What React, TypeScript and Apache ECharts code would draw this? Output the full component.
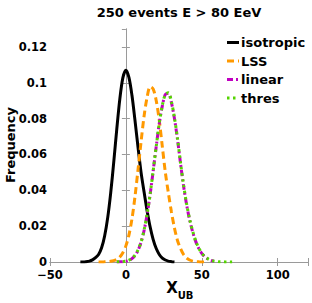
import React, { useEffect, useRef } from "react";
import * as echarts from "echarts";

const titleText = "250 events E > 80 EeV";
const yAxisName = "Frequency";
const xNameMain = "X";
const xNameSub = "UB";
const xTicks = [-50, 0, 50, 100];
const yTicks = [0, 0.02, 0.04, 0.06, 0.08, 0.1, 0.12];
const legendNames = ["isotropic", "LSS", "linear", "thres"];

const xs = [
  -30, -28, -26, -24, -22, -20, -18, -16, -14, -12, -10, -8, -6, -4, -2, 0, 2, 4, 6, 8, 10,
  12, 14, 16, 18, 20, 22, 24, 26, 28, 30, 32, 34, 36, 38, 40, 42, 44, 46, 48, 50, 52, 54, 56,
  58, 60, 62, 64, 66, 68, 70,
];

const isotropic = [
  0, 0, 0.0002, 0.0005, 0.0012, 0.0024, 0.0042, 0.0079, 0.0145, 0.0246, 0.0386, 0.0557,
  0.0741, 0.0909, 0.1027, 0.107, 0.103, 0.093, 0.079, 0.064, 0.05, 0.039, 0.0285, 0.0195,
  0.0125, 0.0075, 0.0042, 0.0022, 0.0011, 0.0005, 0.0002, 0, null, null, null, null, null,
  null, null, null, null, null, null, null, null, null, null, null, null, null, null,
];

const lss = [
  null, null, null, null, null, null, 0, 0, 0.0001, 0.0002, 0.0004, 0.0008, 0.0015, 0.0028,
  0.0052, 0.009, 0.015, 0.024, 0.0365, 0.0515, 0.067, 0.0815, 0.092, 0.0978, 0.0965, 0.09,
  0.079, 0.0645, 0.05, 0.0385, 0.028, 0.019, 0.012, 0.0075, 0.0042, 0.0022, 0.0011, 0.0005,
  0.0002, 0.0001, 0, 0, null, null, null, null, null, null, null, null, null,
];

const linear = [
  null, null, null, null, null, null, null, null, null, null, null, null, 0, 0.0001, 0.0002,
  0.0004, 0.0009, 0.0019, 0.0036, 0.0065, 0.011, 0.0176, 0.0266, 0.0378, 0.0509, 0.0645,
  0.0773, 0.087, 0.0935, 0.094, 0.089, 0.08, 0.0685, 0.055, 0.0425, 0.032, 0.0235, 0.0168,
  0.0115, 0.0076, 0.0048, 0.0029, 0.0017, 0.0009, 0.0004, null, null, null, null, null, null,
];

const thres = [
  null, null, null, null, null, null, null, null, null, null, null, null, 0.0001, 0.0001,
  0.0002, 0.0005, 0.001, 0.002, 0.0038, 0.0067, 0.0112, 0.0179, 0.0268, 0.038, 0.051, 0.0646,
  0.0775, 0.0873, 0.0935, 0.0945, 0.0895, 0.0805, 0.069, 0.0555, 0.043, 0.0325, 0.024, 0.0172,
  0.0118, 0.0078, 0.005, 0.0031, 0.0018, 0.001, 0.0005, 0.0003, 0.0001, 0.0001, 0, 0, 0,
];

const FONT = "'DejaVu Sans', 'Liberation Sans', Arial, sans-serif";
const AXIS_GREY = "#9a9a9a";
const COLORS = ["#000000", "#ff9900", "#c000c0", "#55d400"];
const DASHES: any[] = [null, [7, 4], [6, 3, 2, 3], [2.5, 3.5]];

function pairs(vals: (number | null)[]) {
  return xs.map((x, i) => [x, vals[i]]);
}

export default function App() {
  const ref = useRef<HTMLDivElement>(null);

  useEffect(() => {
    if (!ref.current) return;
    const chart = echarts.init(ref.current, undefined, { renderer: "svg" });

    const baseX = {
      type: "value" as const,
      min: -50,
      max: 120,
      interval: 50,
      splitLine: { show: false },
      axisLine: { show: true, lineStyle: { color: AXIS_GREY, width: 1 } },
      axisTick: { show: true, inside: true, length: 4, lineStyle: { color: AXIS_GREY } },
    };
    const baseY = {
      type: "value" as const,
      min: 0,
      max: 0.13,
      interval: 0.02,
      splitLine: { show: false },
      axisLine: { show: true, lineStyle: { color: AXIS_GREY, width: 1 } },
      axisTick: { show: true, inside: true, length: 4, lineStyle: { color: AXIS_GREY } },
    };

    const seriesVals = [isotropic, lss, linear, thres];
    const series = seriesVals.map((vals, i) => ({
      name: legendNames[i],
      type: "line" as const,
      data: pairs(vals),
      showSymbol: false,
      symbol: "none",
      smooth: 0.3,
      connectNulls: false,
      lineStyle: {
        color: COLORS[i],
        width: 3,
        type: DASHES[i] ? DASHES[i] : "solid",
        cap: "butt",
      },
      itemStyle: { color: COLORS[i] },
      z: 3,
    }));

    const legendGraphics: any[] = [];
    legendNames.forEach((name, i) => {
      const cy = 42.5 + i * 18.5;
      legendGraphics.push({
        type: "line",
        shape: { x1: 227, y1: cy, x2: 239, y2: cy },
        style: {
          stroke: COLORS[i],
          lineWidth: 3,
          lineDash: DASHES[i] ? DASHES[i] : null,
        },
      });
      legendGraphics.push({
        type: "text",
        x: 241,
        y: cy,
        style: {
          text: name,
          fill: "#000",
          font: `bold 13px ${FONT}`,
          textAlign: "left",
          textVerticalAlign: "middle",
        },
      });
    });

    chart.setOption({
      animation: false,
      backgroundColor: "#ffffff",
      textStyle: { fontFamily: FONT },
      grid: {
        left: 50,
        right: 4,
        top: 29,
        bottom: 41,
        containLabel: false,
        outerBoundsMode: "none",
      },
      xAxis: [
        {
          ...baseX,
          position: "bottom",
          axisLabel: {
            show: true,
            margin: 7,
            fontFamily: FONT,
            fontWeight: "bold",
            fontSize: 11.5,
            color: "#000",
            formatter: (v: number) =>
              xTicks.includes(v) ? (v < 0 ? "\u2212" + Math.abs(v) : String(v)) : "",
          },
        },
        { ...baseX, position: "top", axisLabel: { show: false } },
      ],
      yAxis: [
        {
          ...baseY,
          position: "left",
          axisLabel: {
            show: true,
            margin: 3,
            showMaxLabel: false,
            fontFamily: FONT,
            fontWeight: "bold",
            fontSize: 11.5,
            color: "#000",
            formatter: (v: number) => {
              const hit = yTicks.find((t) => Math.abs(t - v) < 1e-9);
              if (hit === undefined) return "";
              if (hit === 0) return "0";
              return String(parseFloat(hit.toFixed(2)));
            },
          },
        },
        { ...baseY, position: "right", axisLabel: { show: false } },
      ],
      graphic: [
        {
          type: "text",
          x: 179,
          y: 12,
          style: {
            text: titleText,
            fill: "#000",
            font: `bold 13px ${FONT}`,
            textAlign: "center",
            textVerticalAlign: "middle",
          },
        },
        {
          type: "text",
          x: 10,
          y: 145,
          rotation: Math.PI / 2,
          style: {
            text: yAxisName,
            fill: "#000",
            font: `bold 13px ${FONT}`,
            textAlign: "center",
            textVerticalAlign: "middle",
          },
        },
        {
          type: "text",
          x: 172,
          y: 288,
          style: {
            text: xNameMain,
            fill: "#000",
            font: `bold 15px ${FONT}`,
            textAlign: "center",
            textVerticalAlign: "middle",
          },
        },
        {
          type: "text",
          x: 185.5,
          y: 295,
          style: {
            text: xNameSub,
            fill: "#000",
            font: `bold 10px ${FONT}`,
            textAlign: "center",
            textVerticalAlign: "middle",
          },
        },
        ...legendGraphics,
      ],
      series,
    });

    return () => chart.dispose();
  }, []);

  return (
    <div
      ref={ref}
      style={{ position: "absolute", left: 0, top: 0, width: 312, height: 303 }}
    />
  );
}
